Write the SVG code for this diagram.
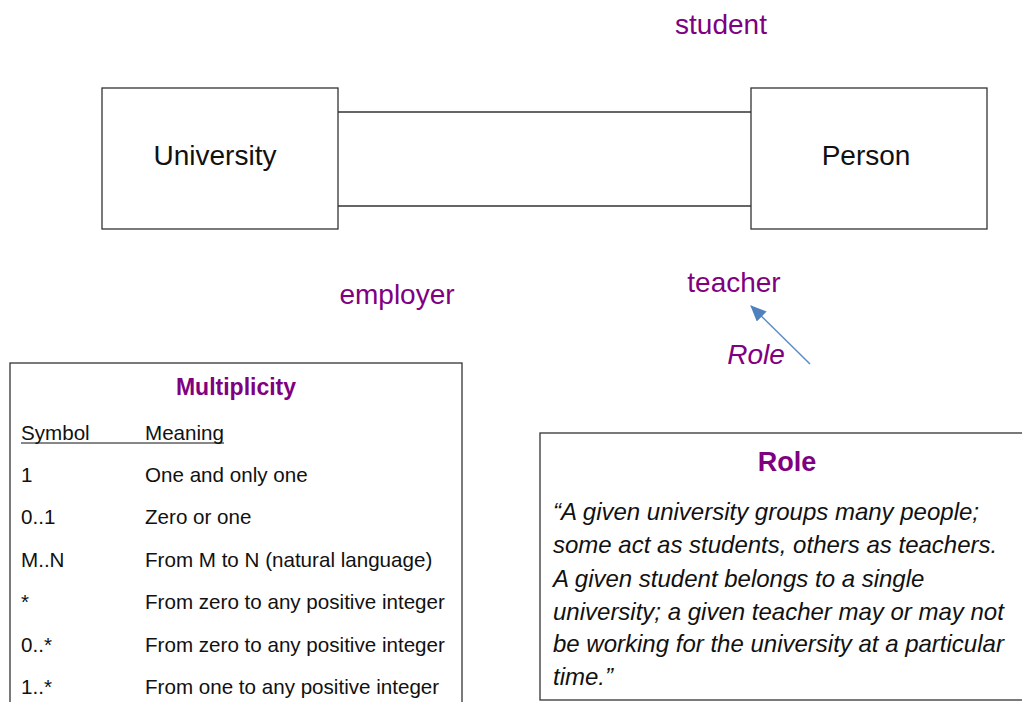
<svg xmlns="http://www.w3.org/2000/svg" width="1022" height="702" viewBox="0 0 1022 702">
<style>
text{font-family:"Liberation Sans",Arial,sans-serif;}
.box{fill:#fff;stroke:#333;stroke-width:1.3;}
.cls{font-size:28px;fill:#111;text-anchor:middle;}
.role{font-size:28px;fill:#800080;text-anchor:middle;}
.conn{stroke:#333;stroke-width:1.3;fill:none;}
.title{font-size:23px;font-weight:bold;fill:#800080;text-anchor:middle;}
.cell{font-size:20.6px;fill:#111;}
.quote{font-size:24px;font-style:italic;fill:#111;}
</style>
<defs>
<marker id="ah" markerWidth="16" markerHeight="14" refX="15" refY="7" orient="auto" markerUnits="userSpaceOnUse" viewBox="0 0 16 14">
<path d="M0,0 L16,7 L0,14 z" fill="#4f81bd"/>
</marker>
</defs>
<g id="connectors">
<line class="conn" x1="338" y1="112" x2="751" y2="112"/>
<line class="conn" x1="338" y1="206" x2="751" y2="206"/>
<line x1="810" y1="364" x2="751" y2="306" stroke="#5b8cc6" stroke-width="1.5" marker-end="url(#ah)"/>
</g>
<g id="university">
<rect class="box" x="102" y="88" width="236" height="141"/>
<text class="cls" x="215" y="165">University</text>
</g>
<g id="person">
<rect class="box" x="751" y="88" width="236" height="141"/>
<text class="cls" x="866" y="165">Person</text>
</g>
<g id="labels">
<text class="role" x="721" y="34">student</text>
<text class="role" x="397" y="304">employer</text>
<text class="role" x="734" y="292">teacher</text>
<text class="role" x="756" y="364" font-style="italic">Role</text>
</g>
<g id="multiplicity">
<rect class="box" x="10" y="363" width="452" height="345"/>
<text class="title" x="236" y="395">Multiplicity</text>
<text class="cell" x="21" y="440">Symbol</text>
<text class="cell" x="145" y="440">Meaning</text>
<line x1="21" y1="443" x2="224" y2="443" stroke="#111" stroke-width="1.2"/>
<text class="cell" x="21" y="482">1</text>
<text class="cell" x="145" y="482">One and only one</text>
<text class="cell" x="21" y="524">0..1</text>
<text class="cell" x="145" y="524">Zero or one</text>
<text class="cell" x="21" y="567">M..N</text>
<text class="cell" x="145" y="567">From M to N (natural language)</text>
<text class="cell" x="21" y="609">*</text>
<text class="cell" x="145" y="609">From zero to any positive integer</text>
<text class="cell" x="21" y="652">0..*</text>
<text class="cell" x="145" y="652">From zero to any positive integer</text>
<text class="cell" x="21" y="694">1..*</text>
<text class="cell" x="145" y="694">From one to any positive integer</text>
</g>
<g id="role-box">
<rect class="box" x="540" y="433" width="490" height="267"/>
<text class="title" x="787" y="471" style="font-size:27px">Role</text>
<text class="quote" x="553" y="520">“A given university groups many people;</text>
<text class="quote" x="553" y="553">some act as students, others as teachers.</text>
<text class="quote" x="553" y="587">A given student belongs to a single</text>
<text class="quote" x="553" y="620">university; a given teacher may or may not</text>
<text class="quote" x="553" y="652">be working for the university at a particular</text>
<text class="quote" x="553" y="685">time.”</text>
</g>
</svg>
